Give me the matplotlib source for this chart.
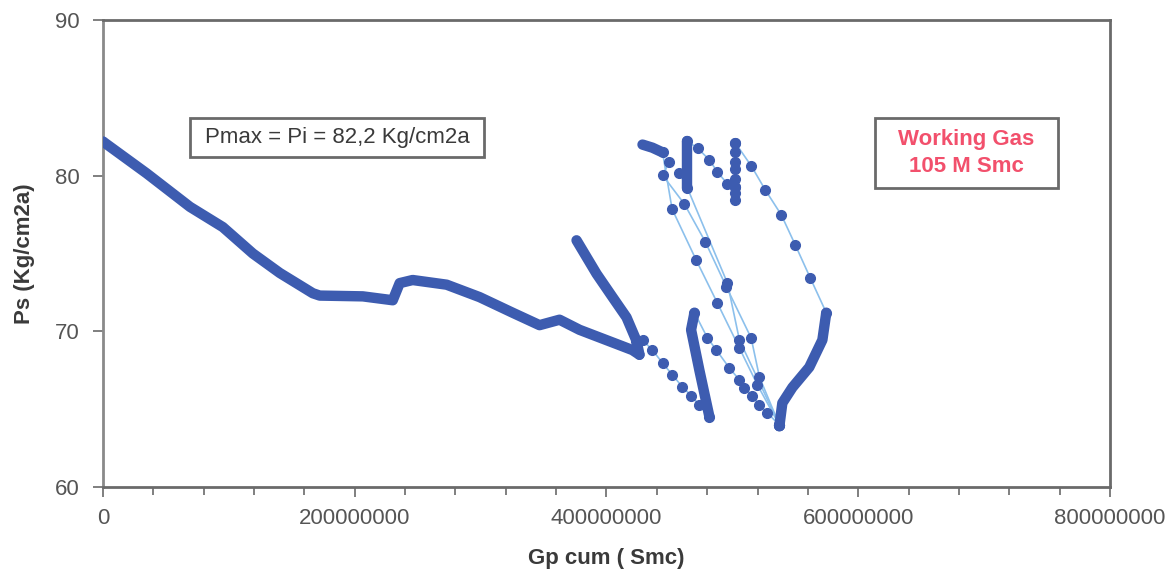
import matplotlib
matplotlib.use("Agg")
import matplotlib.pyplot as plt
from matplotlib.patches import Rectangle
from matplotlib.ticker import FixedLocator, MultipleLocator

plt.rcParams['font.family'] = ['Liberation Sans', 'DejaVu Sans']

# Gp cum in millions of Smc, Ps in Kg/cm2a
# dense stretches (markers so close they form a band)
depl_gp = [0, 1.6, 34.7, 69.1, 95.2, 119.1, 140.5, 166.7, 172.2, 206.4, 230.2,
           235.7, 246.0, 273.0, 299.2, 325.4, 346.8, 362.7, 378.6, 420.6, 426.2]
depl_ps = [82.2, 82.1, 80.15, 78.0, 76.7, 75.0, 73.75, 72.45, 72.3, 72.25, 72.0,
           73.1, 73.3, 73.0, 72.2, 71.2, 70.4, 70.75, 70.1, 68.8, 68.5]

inj1_gp = [426.2, 423.8, 415.9, 404.8, 392.1, 376.2]
inj1_ps = [68.5, 69.4, 70.9, 72.2, 73.7, 75.85]

inj2_gp = [481.8, 479.4, 473.8, 467.2, 469.9]
inj2_ps = [64.5, 65.4, 67.5, 70.1, 71.2]

rise_gp = [537.3, 539.7, 547.7, 561.1, 571.5, 574.6]
rise_ps = [63.9, 65.4, 66.4, 67.7, 69.45, 71.2]

col_a_gp = [464.3, 464.3]
col_a_ps = [82.2, 79.2]

blob_gp = [428.6, 436.5, 444.5]
blob_ps = [82.0, 81.8, 81.5]

# sparse stretches (single markers joined by a thin line)
prod1_gp = [423.8, 428.6, 436.5, 444.5, 452.4, 460.3, 467.5, 473.8, 481.8]
prod1_ps = [69.4, 69.45, 68.8, 67.97, 67.2, 66.43, 65.85, 65.27, 64.5]

prod2_gp = [469.9, 480.2, 487.3, 497.6, 505.6, 509.6, 515.9, 521.5, 527.8, 537.3]
prod2_ps = [71.2, 69.58, 68.8, 67.65, 66.88, 66.37, 65.85, 65.27, 64.76, 63.99]

arc_gp = [574.6, 561.9, 550.0, 538.9, 526.2, 515.1, 502.4]
arc_ps = [71.2, 73.43, 75.55, 77.48, 79.08, 80.62, 82.1]

col_b_gp = [502.4, 502.4, 502.0, 502.4, 502.0, 502.4, 502.4, 502.4]
col_b_ps = [82.1, 81.5, 80.9, 80.4, 79.8, 79.3, 78.9, 78.45]

top_gp = [464.3, 472.3, 481.8, 488.1, 496.1, 502.0]
top_ps = [82.2, 81.78, 81.01, 80.24, 79.47, 79.3]

diag_a_gp = [444.5, 452.1, 471.2, 488.1, 505.6, 519.9, 537.3]
diag_a_ps = [81.5, 77.86, 74.59, 71.82, 68.93, 66.56, 63.99]

diag_b_gp = [450.0, 444.5, 461.9, 478.6, 495.3, 514.9, 521.5, 537.3]
diag_b_ps = [80.88, 80.04, 78.18, 75.74, 72.85, 69.58, 67.07, 63.99]

diag_c_gp = [457.9, 464.3, 496.1, 505.6, 537.3]
diag_c_ps = [80.17, 79.2, 73.1, 69.45, 63.99]

x_ticks = [0, 200000000, 400000000, 600000000, 800000000]
y_ticks = [60, 70, 80, 90]

dense = [(depl_gp, depl_ps), (inj1_gp, inj1_ps), (inj2_gp, inj2_ps),
         (rise_gp, rise_ps), (col_a_gp, col_a_ps), (blob_gp, blob_ps)]
sparse = [(prod1_gp, prod1_ps), (prod2_gp, prod2_ps), (arc_gp, arc_ps),
          (col_b_gp, col_b_ps), (top_gp, top_ps), (diag_a_gp, diag_a_ps),
          (diag_b_gp, diag_b_ps), (diag_c_gp, diag_c_ps)]

dot_col = '#3d5cb0'
line_col = '#8cc0ec'
grey = '#6a6a6a'

fig = plt.figure(figsize=(11.73, 5.73), dpi=100)
ax = fig.add_axes([0.0878, 0.150, 0.8585, 0.815])

for gp, ps in sparse:
    ax.plot([g * 1e6 for g in gp], ps, color=line_col, lw=1.2, zorder=2)
for gp, ps in sparse:
    ax.plot([g * 1e6 for g in gp], ps, ls='none', marker='o', ms=7,
            mfc=dot_col, mec=dot_col, zorder=3)
for gp, ps in dense:
    ax.plot([g * 1e6 for g in gp], ps, color=dot_col, lw=7.5,
            solid_capstyle='round', solid_joinstyle='round', zorder=4)

ax.set_xlim(0, 800000000)
ax.set_ylim(60, 90)
ax.xaxis.set_major_locator(FixedLocator(x_ticks))
ax.set_xticklabels([str(v) for v in x_ticks])
ax.xaxis.set_minor_locator(MultipleLocator(40000000))
ax.yaxis.set_major_locator(FixedLocator(y_ticks))

for s in ax.spines.values():
    s.set_color(grey)
    s.set_linewidth(2)
ax.spines['left'].set_color('#8a8a8a')

ax.tick_params(axis='both', which='major', direction='out', length=7, width=1.2,
               color=grey, labelsize=16, labelcolor='#555555', pad=8)
ax.tick_params(axis='x', which='minor', direction='out', length=6, width=1.2, color=grey)
ax.tick_params(axis='y', which='major', pad=10)

ax.set_xlabel('Gp cum ( Smc)', fontsize=16, fontweight='bold', color='#3a3a3a', labelpad=14)
ax.set_ylabel('Ps (Kg/cm2a)', fontsize=16, fontweight='bold', color='#3a3a3a', labelpad=14)

# annotation boxes
ax.add_patch(Rectangle((0.0864, 0.7066), 0.292, 0.0834, transform=ax.transAxes,
                       fc='white', ec=grey, lw=2, zorder=5))
ax.text(0.2324, 0.7495, 'Pmax = Pi = 82,2 Kg/cm2a', transform=ax.transAxes,
        fontsize=16, color='#3a3a3a', ha='center', va='center', zorder=6)

ax.add_patch(Rectangle((0.7666, 0.640), 0.1817, 0.150, transform=ax.transAxes,
                       fc='white', ec=grey, lw=2, zorder=5))
ax.text(0.8575, 0.715, 'Working Gas\n105 M Smc', transform=ax.transAxes,
        fontsize=16, fontweight='bold', color='#f2506c', ha='center', va='center',
        linespacing=1.35, zorder=6)

fig.savefig('out.png', dpi=100)
